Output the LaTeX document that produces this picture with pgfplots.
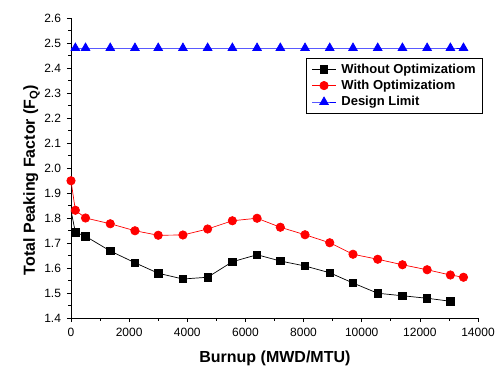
\documentclass[border=0pt]{standalone}
\usepackage{fontspec}
\setmainfont{Liberation Sans}
\usepackage{pgfplots}
\pgfplotsset{compat=1.18}
\begin{document}
\begin{tikzpicture}[x=1pt,y=1pt]
\path[use as bounding box] (-71,-52) rectangle (429,318);
\begin{axis}[
  at={(0,0)}, anchor=south west,
  scale only axis, width=407pt, height=300pt,
  xmin=0, xmax=14000, ymin=1.4, ymax=2.6,
  axis x line*=bottom, axis y line*=left,
  scaled x ticks=false,
  xtick={0,2000,...,14000}, minor x tick num=1,
  ytick={1.4,1.5,...,2.6}, minor y tick num=1,
  tick align=outside,
  major tick length=4pt, minor tick length=2.5pt,
  tick style={black, line width=0.6pt},
  axis line style={line width=0.8pt},
  /pgf/number format/assume math mode=true,
  x tick label style={yshift=-3pt, /pgf/number format/1000 sep={}},
  y tick label style={xshift=-2.5pt, /pgf/number format/fixed, /pgf/number format/fixed zerofill, /pgf/number format/precision=1},
  tick label style={font=\fontsize{12}{14}\selectfont},
  xlabel={\bfseries Burnup (MWD/MTU)},
  ylabel={\bfseries Total Peaking Factor (F\textsubscript{Q})},
  label style={font=\fontsize{16}{19}\selectfont},
  xlabel style={at={(axis description cs:0.501,-0.133)}, anchor=center},
  ylabel style={at={(axis description cs:-0.097,0.46)}, anchor=center},
  legend style={at={(1.012,0.867)}, anchor=north east, draw=black, line width=0.6pt,
    font=\fontsize{13}{15}\selectfont\bfseries, inner xsep=5pt, inner ysep=3.5pt, row sep=1.5pt,
    /tikz/every odd column/.append style={column sep=3pt}},
  legend cell align=left,
  legend image code/.code={
    \draw[#1, mark indices={2}] plot coordinates {(0pt,0pt) (12pt,0pt) (24pt,0pt)};},
]
\addplot[black, line width=0.7pt, mark=square*, mark size=3.7pt, mark indices={2,...,18}] coordinates {
(0,1.83) (150,1.743) (500,1.727) (1350,1.668) (2200,1.621) (3000,1.579) (3850,1.556)
(4700,1.563) (5550,1.625) (6400,1.653) (7200,1.628) (8050,1.608) (8900,1.581)
(9700,1.54) (10550,1.499) (11400,1.489) (12250,1.479) (13050,1.467)};
\addlegendentry{Without Optimizatiom}
\addplot[red, line width=0.7pt, mark=*, mark size=4.2pt] coordinates {
(0,1.949) (150,1.831) (500,1.80) (1350,1.777) (2200,1.749) (3000,1.731) (3850,1.732)
(4700,1.756) (5550,1.789) (6400,1.799) (7200,1.763) (8050,1.733) (8900,1.701)
(9700,1.655) (10550,1.635) (11400,1.613) (12250,1.593) (13050,1.572) (13500,1.563)};
\addlegendentry{With Optimizatiom}
\addplot[blue, line width=0.7pt, mark=triangle*, mark size=5pt, mark indices={2,...,19}] coordinates {
(0,2.48) (150,2.48) (500,2.48) (1350,2.48) (2200,2.48) (3000,2.48) (3850,2.48)
(4700,2.48) (5550,2.48) (6400,2.48) (7200,2.48) (8050,2.48) (8900,2.48)
(9700,2.48) (10550,2.48) (11400,2.48) (12250,2.48) (13050,2.48) (13500,2.48)};
\addlegendentry{Design Limit}
\end{axis}
\end{tikzpicture}
\end{document}
